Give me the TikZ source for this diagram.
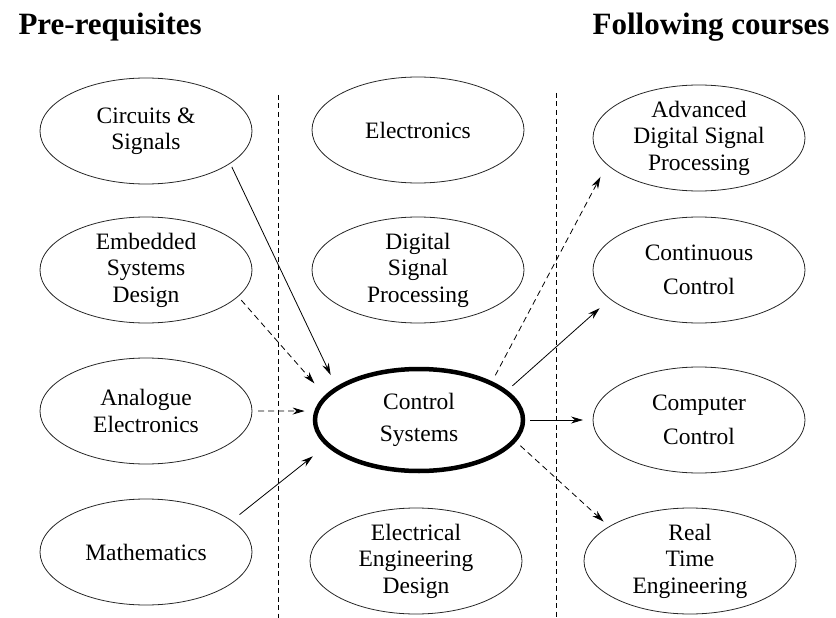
\documentclass[tikz,border=0pt]{standalone}
\usepackage{fontspec}
\setmainfont{Liberation Serif}
\usetikzlibrary{shapes.geometric}
\usetikzlibrary{arrows.meta}
\tikzset{
      course/.style={ellipse, draw=black!85, line width=0.8pt, minimum width=212pt, minimum height=106pt,
            inner sep=-2pt, outer sep=0pt, align=center, font=\fontsize{23.5}{26.5}\selectfont},
      core/.style={course, draw=black, line width=4.5pt, minimum width=208pt, minimum height=102pt},
      heading/.style={font=\fontsize{31}{36}\selectfont\bfseries},
      divider/.style={draw=black, line width=0.8pt, dash pattern=on 5pt off 3.5pt},
      needs/.style={draw=black, line width=0.8pt, -{Stealth[length=12pt,width=7pt]}},
      mayneed/.style={needs, dash pattern=on 6pt off 4pt},
}
\begin{document}
\begin{tikzpicture}[x=1pt,y=-1pt]
        \useasboundingbox (0,0) rectangle (836,618);

        \node[heading, anchor=base west] (pre) at (15,35) {Pre-requisites};
        \node[heading, anchor=base east] (follow) at (833,35) {Following courses};

        \draw[divider] (278,95) -- (278,618);
        \draw[divider] (556,93) -- (556,618);

        \node[course] (circ) at (146,131) {Circuits \&\\Signals};
        \node[course] (emb) at (146,270) {Embedded\\Systems\\Design};
        \node[course] (ana) at (146,411) {Analogue\\Electronics};
        \node[course] (math) at (146,552) {Mathematics};

        \node[course] (elec) at (418,130) {Electronics};
        \node[course] (dsp) at (418,270) {Digital\\Signal\\Processing};
        \node[core] (ctrl) at (419,420) {Control\\[6pt]Systems};
        \node[course] (eed) at (416,561) {Electrical\\Engineering\\Design};

        \node[course] (adsp) at (699,138) {Advanced\\Digital Signal\\Processing};
        \node[course] (cont) at (699,270) {Continuous\\[8pt]Control};
        \node[course] (comp) at (699,420) {Computer\\[8pt]Control};
        \node[course] (rte) at (690,561) {Real\\Time\\Engineering};

        \draw[needs, shorten <=4pt, shorten >=15pt] (circ.-21) -- (ctrl.159);
        \draw[mayneed, shorten <=5pt, shorten >=18pt] (emb.-16) -- (ctrl.166.5);
        \draw[mayneed, shorten <=6pt, shorten >=12pt] (ana.0) -- (ctrl.175);
        \draw[needs, shorten <=10pt, shorten >=19pt] (math.20) -- (ctrl.195);

        \draw[mayneed, shorten <=9pt, shorten >=14pt] (ctrl.27) -- (adsp.-164);
        \draw[needs, shorten <=9pt, shorten >=14pt] (ctrl.18) -- (cont.-162);
        \draw[needs, shorten <=7pt, shorten >=10pt] (ctrl.0) -- (comp.180);
        \draw[mayneed, shorten <=8pt, shorten >=7.5pt] (ctrl.-12) -- (rte.157);

\end{tikzpicture}
\end{document}
